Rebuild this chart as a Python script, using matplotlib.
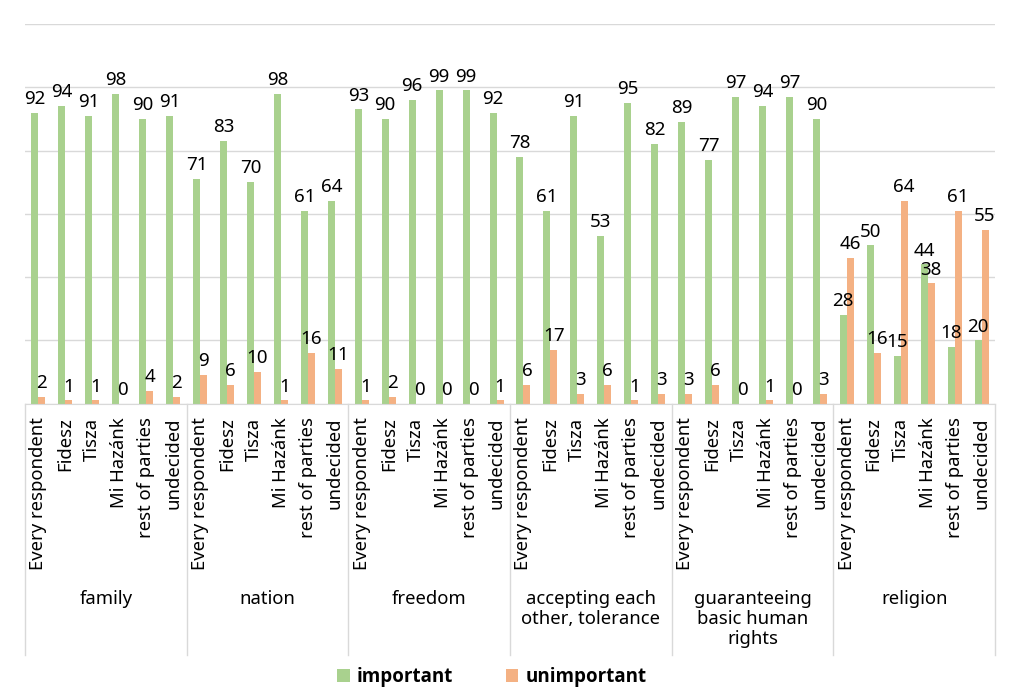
import numpy as np
import matplotlib.pyplot as plt

# -----------------------------
# Data
# -----------------------------
groups = ["family", "nation", "freedom", "accepting each\nother, tolerance",
          "guaranteeing\nbasic human\nrights", "religion"]
subgroups = ["Every respondent", "Fidesz", "Tisza", "Mi Hazánk", "rest of parties", "undecided"]

important = [
    92, 94, 91, 98, 90, 91,
    71, 83, 70, 98, 61, 64,
    93, 90, 96, 99, 99, 92,
    78, 61, 91, 53, 95, 82,
    89, 77, 97, 94, 97, 90,
    28, 50, 15, 44, 18, 20,
]
unimportant = [
    2, 1, 1, 0, 4, 2,
    9, 6, 10, 1, 16, 11,
    1, 2, 0, 0, 0, 1,
    6, 17, 3, 6, 1, 3,
    3, 6, 0, 1, 0, 3,
    46, 16, 64, 38, 61, 55,
]

GREEN = "#A9D18E"
ORANGE = "#F4B183"
GRID = "#D9D9D9"

plt.rcParams["font.family"] = ["Noto Sans", "DejaVu Sans"]

fig = plt.figure(figsize=(10.17, 6.95), dpi=100)
ax = fig.add_axes([25 / 1017, 291.5 / 695, 970 / 1017, 379.5 / 695])

n = len(important)
x = np.arange(n)
w = 0.26
ax.bar(x - w / 2, important, width=w, color=GREEN, label="important", zorder=2)
ax.bar(x + w / 2, unimportant, width=w, color=ORANGE, label="unimportant", zorder=2)

for i in range(n):
    ax.text(x[i] - w / 2, important[i] + 1.5, str(important[i]), ha="center", va="bottom",
            fontsize=13.5, color="black", clip_on=False)
    ax.text(x[i] + w / 2, unimportant[i] + 1.5, str(unimportant[i]), ha="center", va="bottom",
            fontsize=13.5, color="black", clip_on=False)

ax.set_xlim(-0.5, n - 0.5)
ax.set_ylim(0, 120)
ax.set_yticks(np.arange(0, 121, 20))
ax.yaxis.grid(True, color=GRID, linewidth=1, zorder=0)
ax.set_yticklabels([])
ax.tick_params(left=False, bottom=False, labelbottom=False)
for s in ["top", "right", "left"]:
    ax.spines[s].set_visible(False)
ax.spines["bottom"].set_color(GRID)

# multi-level category axis
trans = ax.get_xaxis_transform()
px = 1 / 379.5  # one pixel in axes-y units
for i in range(n):
    ax.text(x[i], -14 * px, subgroups[i % 6], rotation=90, ha="center", va="top",
            fontsize=13.3, transform=trans, clip_on=False)
for g in range(len(groups) + 1):
    ax.plot([g * 6 - 0.5] * 2, [0, -251 * px], color=GRID, lw=1, transform=trans, clip_on=False)
for g, name in enumerate(groups):
    ax.text(g * 6 + 2.5, -186 * px, name, ha="center", va="top", fontsize=13.3,
            transform=trans, clip_on=False, linespacing=1.15)

leg = fig.legend(loc="center", bbox_to_anchor=(492 / 1017, 1 - 677 / 695), ncol=2, frameon=False,
                 prop={"family": ["Open Sans", "DejaVu Sans"], "weight": "bold", "size": 13.5},
                 handlelength=0.65, handleheight=0.65,
                 columnspacing=2.8, handletextpad=0.4)

fig.savefig("out.png", dpi=100)
